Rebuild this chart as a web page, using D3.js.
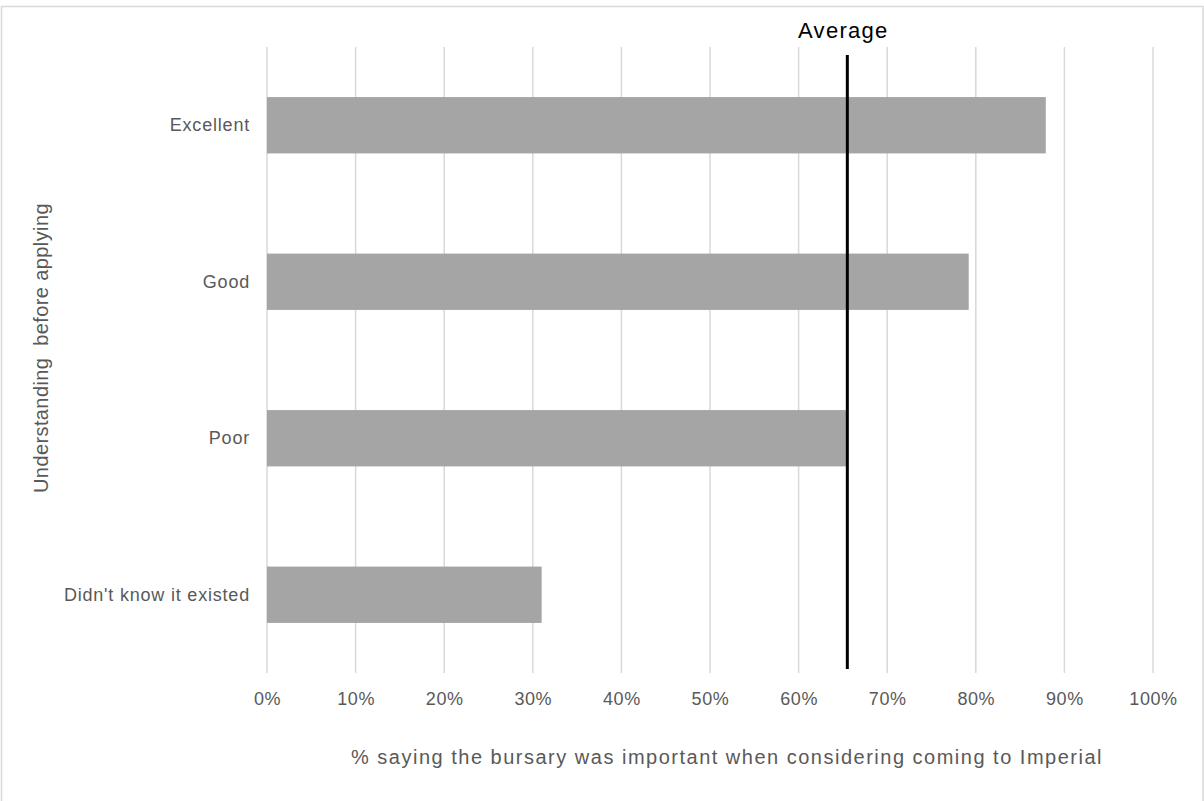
<!DOCTYPE html>
<html>
<head>
<meta charset="utf-8">
<script src="https://cdn.jsdelivr.net/npm/d3@7"></script>
<style>
  body { margin: 0; background: #fff; }
  svg { display: block; font-family: "Liberation Sans", Arial, sans-serif; }
</style>
</head>
<body>
<div id="chart"></div>
<script>
const categories = ['Excellent', 'Good', 'Poor', "Didn't know it existed"];
const values = [0.879, 0.792, 0.654, 0.31];
const averageValue = 0.655;
const xTicks = [0, 0.1, 0.2, 0.3, 0.4, 0.5, 0.6, 0.7, 0.8, 0.9, 1.0];

const width = 1204, height = 801;
const margin = { top: 47, right: 51, bottom: 128, left: 267 };

const svg = d3.select('#chart').append('svg')
  .attr('width', width)
  .attr('height', height);

// outer chart border (bottom edge is cut off in the original)
svg.append('rect')
  .attr('x', 1.5).attr('y', 6.5)
  .attr('width', width - 2.5).attr('height', height + 10)
  .attr('fill', '#fff')
  .attr('stroke', '#d9d9d9')
  .attr('stroke-width', 1.5);

const x = d3.scaleLinear()
  .domain([0, 1])
  .range([margin.left, width - margin.right]);

const y = d3.scaleBand()
  .domain(categories)
  .range([margin.top, height - margin.bottom])
  .paddingInner(0.64)
  .paddingOuter(0.32);

// gridlines
svg.append('g')
  .selectAll('line')
  .data(xTicks)
  .join('line')
  .attr('x1', d => x(d)).attr('x2', d => x(d))
  .attr('y1', margin.top).attr('y2', height - margin.bottom)
  .attr('stroke', '#d9d9d9')
  .attr('stroke-width', 1.5);

// bars
svg.append('g')
  .selectAll('rect')
  .data(categories)
  .join('rect')
  .attr('x', x(0))
  .attr('y', d => y(d))
  .attr('width', (d, i) => x(values[i]) - x(0))
  .attr('height', y.bandwidth())
  .attr('fill', '#a5a5a5');

// x tick labels
const xAxis = d3.axisBottom(x)
  .tickValues(xTicks)
  .tickFormat(d3.format('.0%'))
  .tickSize(0)
  .tickPadding(19);

const gx = svg.append('g')
  .attr('transform', `translate(0,${height - margin.bottom})`)
  .call(xAxis);
gx.select('.domain').remove();
gx.selectAll('text')
  .attr('fill', '#595959')
  .style('font-size', '18px')
  .style('letter-spacing', '0.6px')
  .style('font-family', '"Liberation Sans", Arial, sans-serif');

// y tick labels
const yAxis = d3.axisLeft(y).tickSize(0).tickPadding(17);
const gy = svg.append('g')
  .attr('transform', `translate(${margin.left},0)`)
  .call(yAxis);
gy.select('.domain').remove();
gy.selectAll('text')
  .attr('fill', '#595959')
  .style('font-size', '18px')
  .style('letter-spacing', '0.8px')
  .style('font-family', '"Liberation Sans", Arial, sans-serif');

// average line
svg.append('line')
  .attr('x1', x(averageValue)).attr('x2', x(averageValue))
  .attr('y1', 55).attr('y2', 669)
  .attr('stroke', '#000')
  .attr('stroke-width', 3);

svg.append('text')
  .attr('x', x(averageValue) - 4)
  .attr('y', 38)
  .attr('text-anchor', 'middle')
  .attr('fill', '#000')
  .style('font-size', '22px')
  .style('letter-spacing', '1.3px')
  .text('Average');

// axis titles
svg.append('text')
  .attr('x', 727)
  .attr('y', 764)
  .attr('text-anchor', 'middle')
  .attr('fill', '#595959')
  .style('font-size', '20px')
  .style('letter-spacing', '1.5px')
  .text('% saying the bursary was important when considering coming to Imperial');

svg.append('text')
  .attr('transform', 'translate(48,348) rotate(-90)')
  .attr('text-anchor', 'middle')
  .attr('fill', '#595959')
  .style('font-size', '20px')
  .style('letter-spacing', '0.4px')
  .style('white-space', 'pre')
  .text('Understanding  before applying');
</script>
</body>
</html>
